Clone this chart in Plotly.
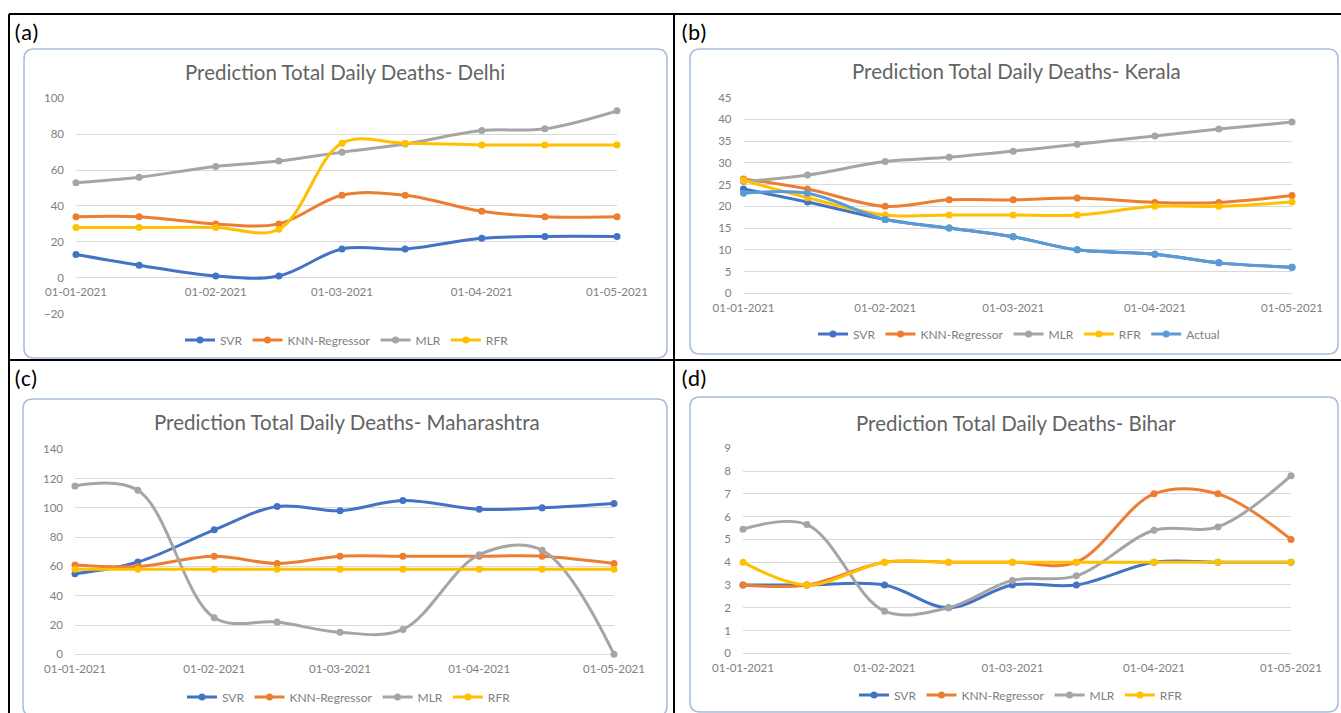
import plotly.graph_objects as go

W, H = 1341, 713

# ---------------- data ----------------
dates = ["2021-01-01", "2021-01-15", "2021-02-01", "2021-02-15", "2021-03-01",
         "2021-03-15", "2021-04-01", "2021-04-15", "2021-05-01"]
tick_dates = ["2021-01-01", "2021-02-01", "2021-03-01", "2021-04-01", "2021-05-01"]
tick_labels = ["01-01-2021", "01-02-2021", "01-03-2021", "01-04-2021", "01-05-2021"]

series_names = ["SVR", "KNN-Regressor", "MLR", "RFR", "Actual"]
series_colors = ["#4472C4", "#ED7D31", "#A5A5A5", "#FFC000", "#5B9BD5"]

delhi_svr = [13, 7, 1, 1, 16, 16, 22, 23, 23]
delhi_knn = [34, 34, 30, 30, 46, 46, 37, 34, 34]
delhi_mlr = [53, 56, 62, 65, 70, 74.5, 82, 83, 93]
delhi_rfr = [28, 28, 28, 27, 75, 75, 74, 74, 74]

kerala_svr = [24, 21, 17, 15, 13, 10, 9, 7, 6]
kerala_knn = [26.3, 24, 20, 21.5, 21.5, 21.9, 20.9, 20.9, 22.5]
kerala_mlr = [25.7, 27.2, 30.3, 31.3, 32.7, 34.3, 36.2, 37.8, 39.4]
kerala_rfr = [26, 22, 18, 18, 18, 18, 20, 20, 21]
kerala_actual = [23, 23, 17, 15, 13, 10, 9, 7, 6]

maha_svr = [55, 63, 85, 101, 98, 105, 99, 100, 103]
maha_knn = [61, 60, 67, 62, 67, 67, 67, 67, 62]
maha_mlr = [115, 112, 25, 22, 15, 17, 68, 71, 0]
maha_rfr = [58, 58, 58, 58, 58, 58, 58, 58, 58]

bihar_svr = [3, 3, 3, 2, 3, 3, 4, 4, 4]
bihar_knn = [3, 3, 4, 4, 4, 4, 7, 7, 5]
bihar_mlr = [5.45, 5.65, 1.85, 2, 3.2, 3.4, 5.4, 5.55, 7.8]
bihar_rfr = [4, 3, 4, 4, 4, 4, 4, 4, 4]

titles = ["Prediction Total Daily Deaths- Delhi",
          "Prediction Total Daily Deaths- Kerala",
          "Prediction Total Daily Deaths- Maharashtra",
          "Prediction Total Daily Deaths- Bihar"]
panel_labels = ["(a)", "(b)", "(c)", "(d)"]

panels = [
    [delhi_svr, delhi_knn, delhi_mlr, delhi_rfr],
    [kerala_svr, kerala_knn, kerala_mlr, kerala_rfr, kerala_actual],
    [maha_svr, maha_knn, maha_mlr, maha_rfr],
    [bihar_svr, bihar_knn, bihar_mlr, bihar_rfr],
]
y_ranges = [(-20, 100), (0, 45), (0, 140), (0, 9)]
y_dticks = [20, 5, 20, 1]

# ---------------- layout helpers (pixel -> paper) ----------------
def X(px):
    return px / W

def Y(py):
    return 1 - py / H

# plot-area geometry in pixels: (x_left, x_right, y_top_px, y_bottom_px)
areas = [
    (76, 617, 98.3, 313.6),
    (743.5, 1292, 97.7, 293.3),
    (75, 614, 449.3, 654.3),
    (743, 1291, 448.3, 653.3),
]
boxes = [  # rounded chart boxes (x0, y0, x1, y1) px
    (24, 49, 667, 358),
    (690, 49, 1338, 354),
    (23, 399, 667, 716),
    (690, 397, 1338, 712),
]
title_pos = [(345, 72), (1016, 71), (347, 422), (1016, 423)]
label_pos = [(12, 32), (679, 32), (12, 378), (679, 378)]
legend_pos = [(347, 340), (1019, 334), (349, 697), (1021, 695)]

FONT = "Lato, 'Open Sans', sans-serif"
GRID = "#D9D9D9"
TXT = "#808080"

fig = go.Figure()

for i, series in enumerate(panels):
    sfx = "" if i == 0 else str(i + 1)
    leg = "legend" if i == 0 else f"legend{i + 1}"
    for j, vals in enumerate(series):
        fig.add_trace(go.Scatter(
            x=dates, y=vals, name=series_names[j],
            mode="lines+markers",
            line=dict(color=series_colors[j], width=3, shape="spline", smoothing=1.0),
            marker=dict(color=series_colors[j], size=7),
            xaxis="x" + sfx, yaxis="y" + sfx,
            legend=leg, cliponaxis=False, showlegend=True,
        ))

layout = dict(
    width=W, height=H, autosize=False,
    margin=dict(l=0, r=0, t=0, b=0, pad=0, autoexpand=False),
    paper_bgcolor="white", plot_bgcolor="white",
    font=dict(family=FONT, color=TXT, size=11),
    showlegend=True,
)

shapes = []
annotations = []

for i in range(4):
    sfx = "" if i == 0 else str(i + 1)
    xl, xr, yt, yb = areas[i]
    y0, y1 = y_ranges[i]
    xa = dict(
        domain=[X(xl), X(xr)], anchor="y" + sfx, type="date",
        range=[dates[0], dates[-1]],
        tickvals=tick_dates, ticktext=tick_labels,
        showgrid=False, zeroline=False, showline=False, ticks="",
        tickfont=dict(size=11.5, color=TXT, family=FONT),
        ticklabelstandoff=6, automargin=False,
    )
    if y0 < 0:
        # Excel places the category axis at value 0
        zero_py = yt + (y1 - 0) / (y1 - y0) * (yb - yt)
        xa.update(anchor="free", position=Y(zero_py))
    ya = dict(
        domain=[Y(yb), Y(yt)], anchor="x" + sfx,
        range=[y0, y1], dtick=y_dticks[i], tick0=0,
        showgrid=True, gridcolor=GRID, gridwidth=1,
        zeroline=True, zerolinecolor=GRID, zerolinewidth=1,
        showline=False, ticks="",
        tickfont=dict(size=11.5, color=TXT, family=FONT),
        ticklabelstandoff=11, automargin=False,
    )
    layout["xaxis" + sfx] = xa
    layout["yaxis" + sfx] = ya

    leg = "legend" if i == 0 else f"legend{i + 1}"
    lx, ly = legend_pos[i]
    layout[leg] = dict(
        orientation="h", x=X(lx), y=Y(ly), xanchor="center", yanchor="middle",
        xref="paper", yref="paper",
        font=dict(size=12, color=TXT, family=FONT),
        bgcolor="rgba(0,0,0,0)", itemwidth=30, tracegroupgap=0,
    )

    # rounded chart box
    bx0, by0, bx1, by1 = boxes[i]
    r = 10
    p = lambda px, py: f"{X(px):.5f},{Y(py):.5f}"
    path = (f"M {p(bx0 + r, by0)} L {p(bx1 - r, by0)} Q {p(bx1, by0)} {p(bx1, by0 + r)} "
            f"L {p(bx1, by1 - r)} Q {p(bx1, by1)} {p(bx1 - r, by1)} "
            f"L {p(bx0 + r, by1)} Q {p(bx0, by1)} {p(bx0, by1 - r)} "
            f"L {p(bx0, by0 + r)} Q {p(bx0, by0)} {p(bx0 + r, by0)} Z")
    shapes.append(dict(type="path", xref="paper", yref="paper", path=path,
                       line=dict(color="#A8BBDB", width=1.5), fillcolor="rgba(0,0,0,0)",
                       layer="below"))

    tx, ty = title_pos[i]
    annotations.append(dict(text=titles[i], x=X(tx), y=Y(ty), xref="paper", yref="paper",
                            xanchor="center", yanchor="middle", showarrow=False,
                            font=dict(size=20.5, color="#636363", family=FONT)))
    plx, ply = label_pos[i]
    annotations.append(dict(text=panel_labels[i], x=X(plx), y=Y(ply), xref="paper", yref="paper",
                            xanchor="left", yanchor="middle", showarrow=False,
                            font=dict(size=23, color="black", family="Carlito, Lato, sans-serif")))

# table borders
black = dict(color="black", width=2)
for (x0, y0_, x1, y1_) in [(9, 14, 1341, 14), (9, 14, 9, 713), (674, 14, 674, 713), (9, 360, 1341, 360)]:
    shapes.append(dict(type="line", xref="paper", yref="paper",
                       x0=X(x0), y0=Y(y0_), x1=X(x1), y1=Y(y1_), line=black))

layout["shapes"] = shapes
layout["annotations"] = annotations
fig.update_layout(**layout)

fig.write_html(
    "out.html",
    config={"responsive": False, "displayModeBar": False},
    post_script="document.body.style.margin='0';document.body.style.overflow='hidden';"
                "document.documentElement.style.overflow='hidden';",
)
